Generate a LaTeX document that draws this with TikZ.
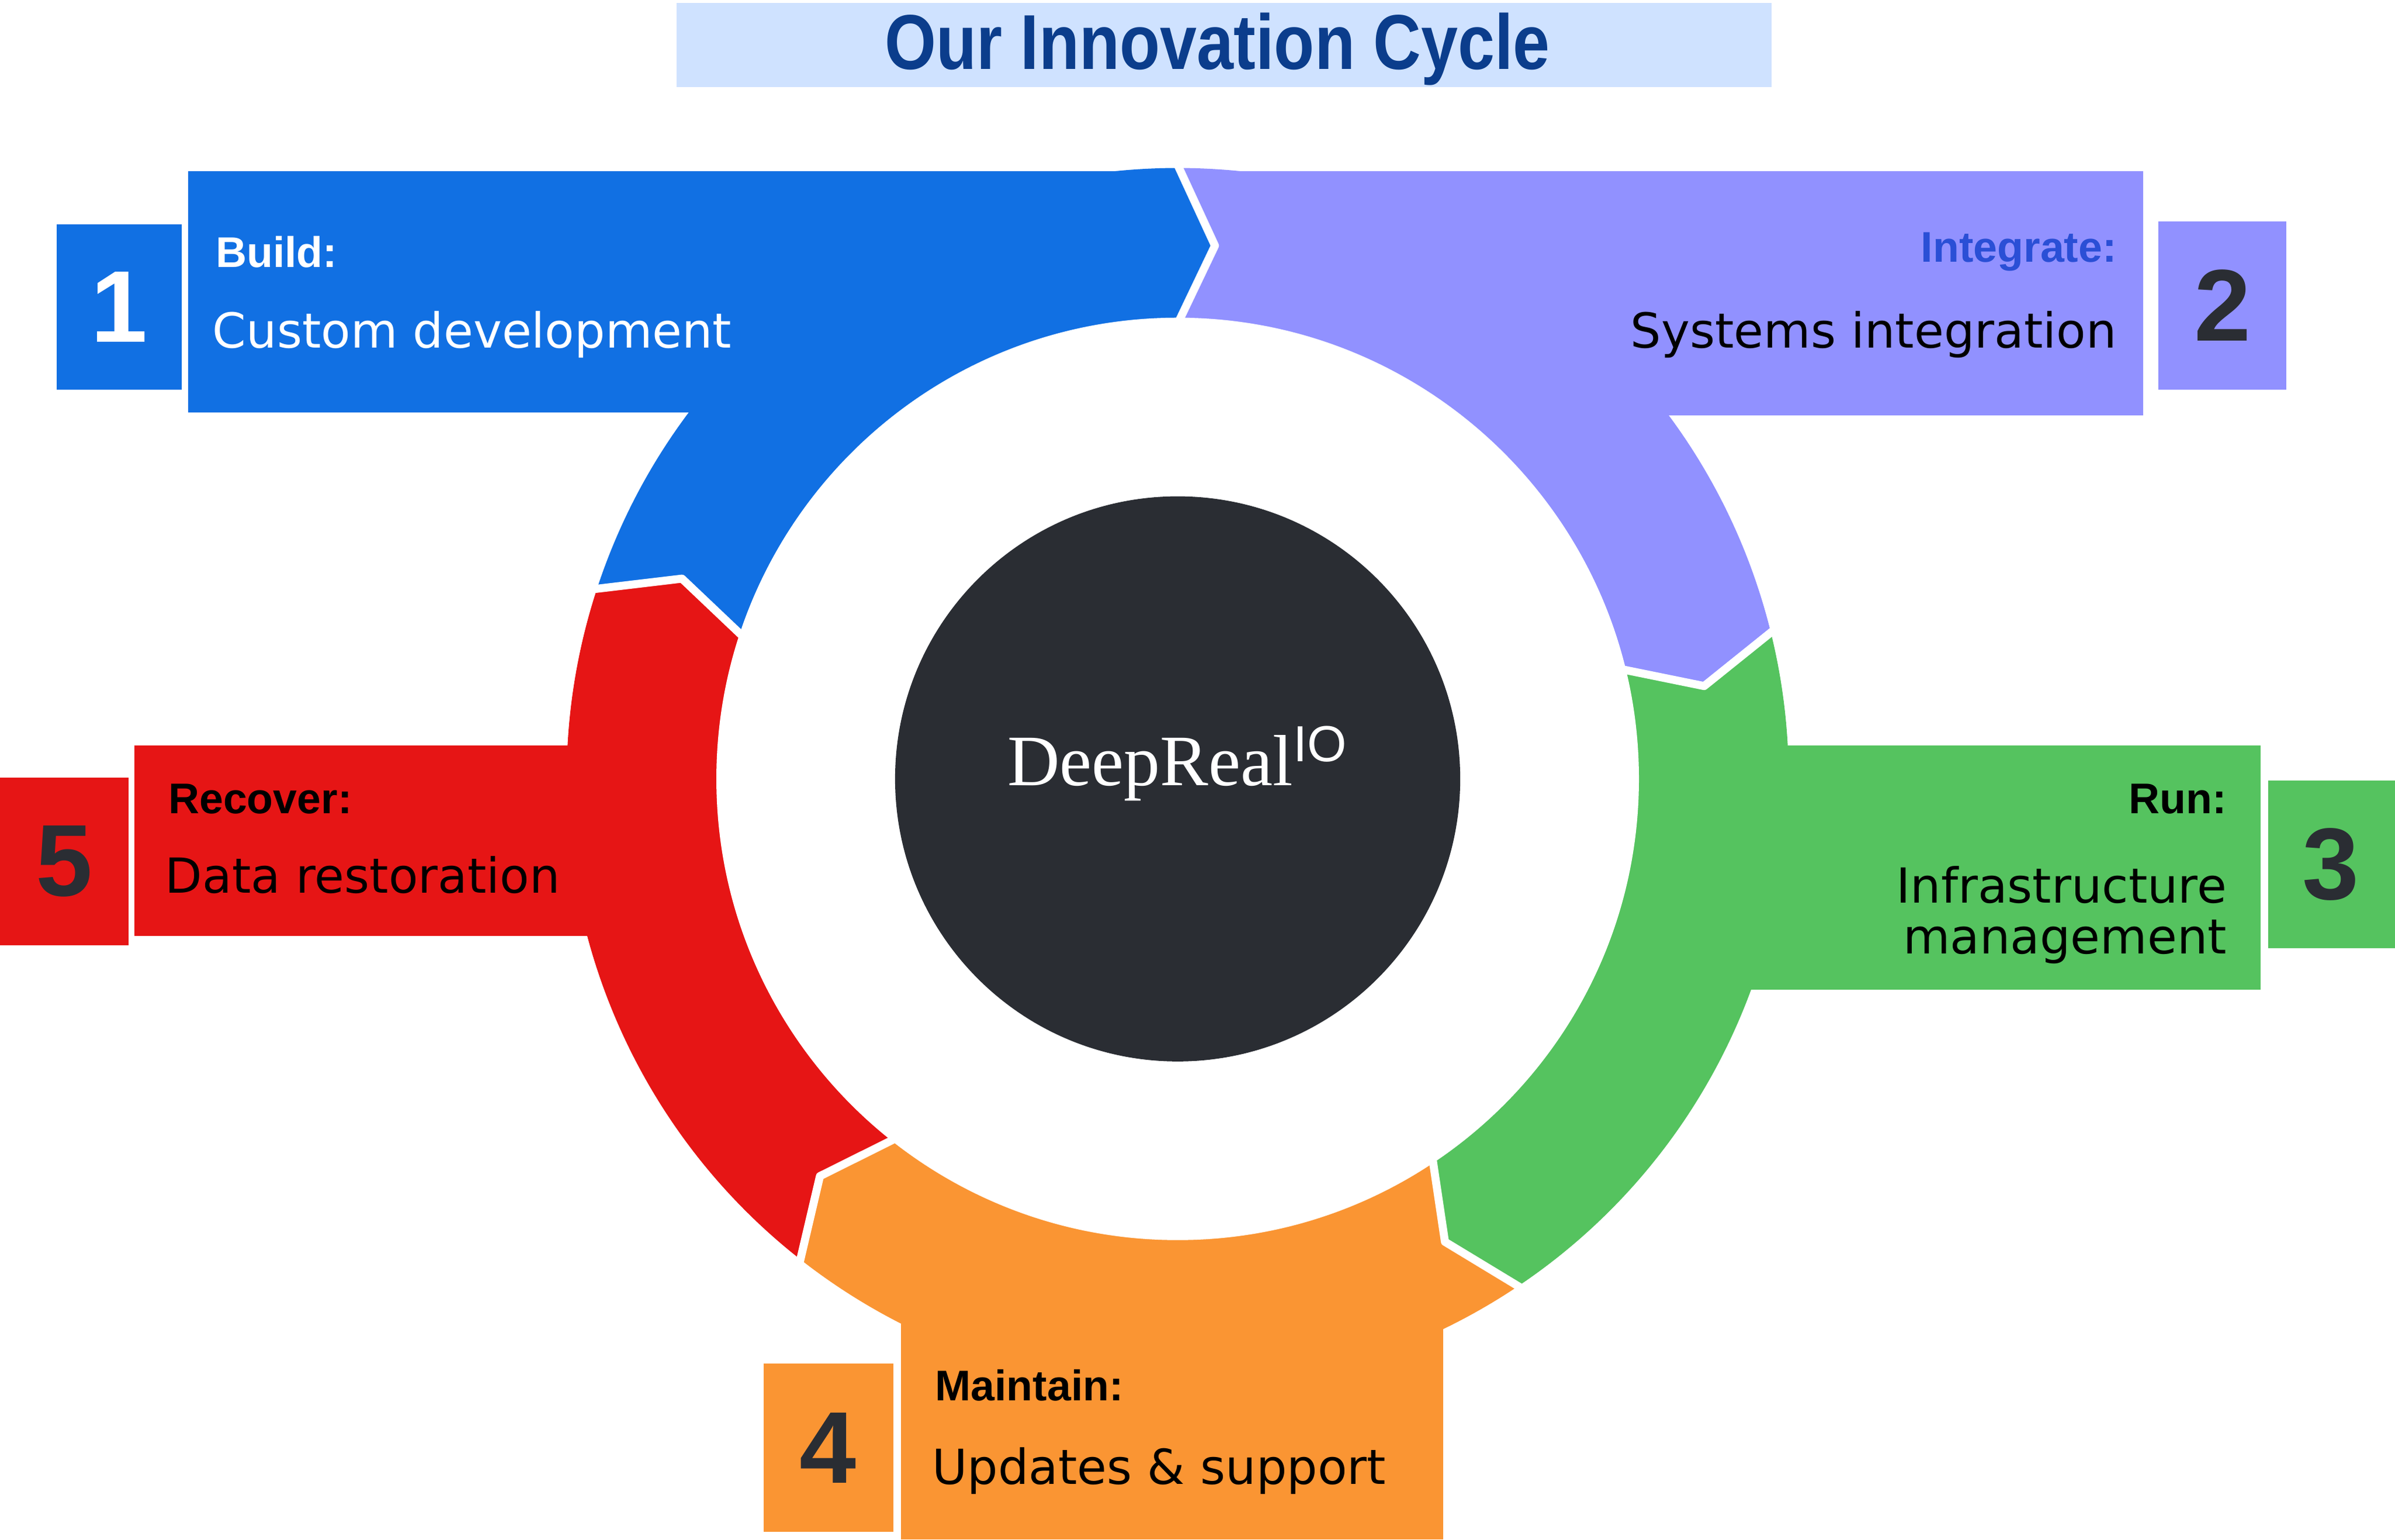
\documentclass[tikz,border=0pt]{standalone}
\usepackage{fontspec}
\setmainfont{Liberation Serif}
\newfontfamily\labfont{Liberation Sans}
\newfontfamily\descfont{DejaVu Sans}
\newfontfamily\titlefont[FakeStretch=0.85]{Liberation Sans}
\definecolor{cblue}{HTML}{1170E3}
\definecolor{cpurple}{HTML}{9191FF}
\definecolor{cgreen}{HTML}{55C35F}
\definecolor{corange}{HTML}{FA9533}
\definecolor{cred}{HTML}{E61515}
\definecolor{cdark}{HTML}{2A2D33}
\definecolor{ctitlebg}{HTML}{CFE2FF}
\definecolor{ctitle}{HTML}{0B3D8C}
\definecolor{cinteg}{HTML}{2A4FD6}
\tikzset{
    numbox/.style={inner sep=0pt, font=\labfont\bfseries\fontsize{38}{40}\selectfont, text=cdark},
    head/.style={font=\labfont\bfseries\fontsize{16}{18}\selectfont},
    desc/.style={font=\descfont\fontsize{18}{20}\selectfont},
}
\begin{document}
\begin{tikzpicture}[x=0.02cm, y=0.02cm]
        \useasboundingbox (0,0) rectangle (1568,1008);
        % Title
        \fill[ctitlebg] (443,951) rectangle (1160,1006);
        \node[font=\titlefont\bfseries\fontsize{29}{30}\selectfont, text=ctitle] (title) at (797,976) {Our Innovation Cycle};
        % Tabs
        \fill[cblue] (123,738) rectangle (760,896);
        \fill[cpurple] (790,736) rectangle (1403,896);
        \fill[cgreen] (1101,360) rectangle (1480,520);
        \fill[corange] (590,0) rectangle (945,158);
        \fill[cred] (88,395) rectangle (441,520);
        % Ring segments
        \begin{scope}[shift={(771,498)}]
            \foreach \a/\b/\c in {162/90/cblue, 90/14/cpurple, 14/-56/cgreen, -56/-128/corange, -128/-198/cred}
            {
                \fill[\c] (\a:400) arc[start angle=\a, end angle=\b, radius=400]
                    -- (\b-4:350) -- (\b:300)
                    arc[start angle=\b, end angle=\a, radius=300]
                    -- (\a-4:350) -- cycle;
            }
            \foreach \b in {90, 14, -56, -128, -198}
            {
                \draw[white, line width=3pt, line join=round] (\b:402) -- (\b-4:350) -- (\b:298);
            }
            \fill[white] (0,0) circle[radius=302];
            \fill[cdark] (0,0) circle[radius=185];
            \node[text=white, font=\fontsize{27}{30}\selectfont] (hub) at (0,10) {DeepReal\textsuperscript{\labfont IO}};
        \end{scope}
        % Number boxes
        \fill[cblue] (37,753) rectangle (119,861);
        \node[numbox, text=white] (n1) at (78,807) {1};
        \fill[cpurple] (1413,753) rectangle (1497,863);
        \node[numbox] (n2) at (1455,808) {2};
        \fill[cgreen] (1485,387) rectangle (1568,497);
        \node[numbox] (n3) at (1526,442) {3};
        \fill[corange] (500,5) rectangle (585,115);
        \node[numbox] (n4) at (542,60) {4};
        \fill[cred] (0,389) rectangle (84,499);
        \node[numbox] (n5) at (42,444) {5};
        % Labels
        \node[head, text=white, anchor=west] (lbuild) at (135,843) {Build:};
        \node[desc, text=white, anchor=west] (dbuild) at (133,789) {Custom development};
        \node[head, text=cinteg, anchor=east] (linteg) at (1392,843) {Integrate:};
        \node[desc, anchor=east] (dinteg) at (1392,789) {Systems integration};
        \node[head, anchor=east] (lrun) at (1464,485) {Run:};
        \node[desc, anchor=east, align=right] (drun) at (1464,409) {Infrastructure\\[-1pt]management};
        \node[head, anchor=west] (lmaint) at (606,101) {Maintain:};
        \node[desc, anchor=west] (dmaint) at (604,45) {Updates \& support};
        \node[head, anchor=west] (lrec) at (104,485) {Recover:};
        \node[desc, anchor=west] (drec) at (102,435) {Data restoration};
\end{tikzpicture}
\end{document}
